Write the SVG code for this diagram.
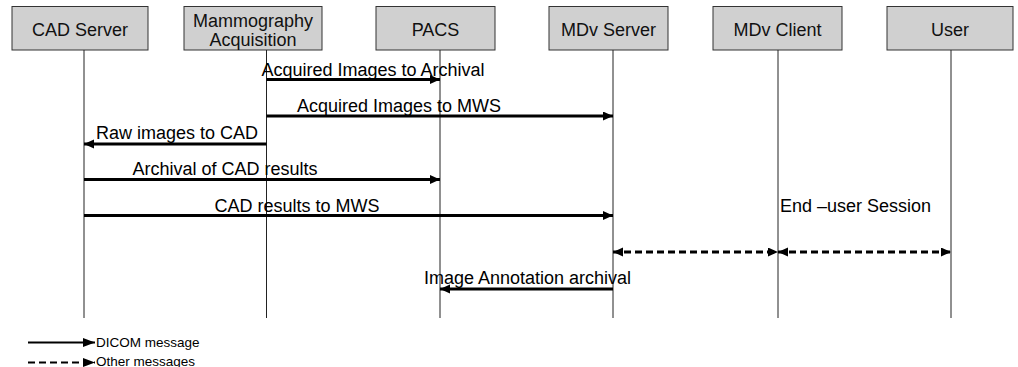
<svg xmlns="http://www.w3.org/2000/svg" width="1018" height="367" viewBox="0 0 1018 367">
  <style>
    .box { fill: #d0d0d0; stroke: #333; stroke-width: 1; }
    .lbl { font-family: "Liberation Sans", Arial, sans-serif; font-size: 18px; fill: #111; text-anchor: middle; }
    .msg { font-family: "Liberation Sans", Arial, sans-serif; font-size: 18px; fill: #000; text-anchor: middle; }
    .life { stroke: #222; stroke-width: 1; fill: none; }
    .dicom { stroke: #000; stroke-width: 3; fill: none; marker-end: url(#head); }
    .other { stroke: #000; stroke-width: 3; fill: none; stroke-dasharray: 7 4; marker-start: url(#head); marker-end: url(#head); }
    .leg { font-family: "Liberation Sans", Arial, sans-serif; font-size: 13.5px; fill: #000; }
  </style>
  <defs>
    <marker id="head" markerUnits="userSpaceOnUse" markerWidth="11" markerHeight="10" refX="10" refY="4.5" orient="auto-start-reverse">
      <path d="M0,0 L10,4.5 L0,9 z" fill="#000"/>
    </marker>
    <marker id="lhead" markerUnits="userSpaceOnUse" markerWidth="13" markerHeight="10" refX="12" refY="4.5" orient="auto">
      <path d="M0,0 L12,4.5 L0,9 z" fill="#000"/>
    </marker>
  </defs>

  <!-- participants -->
  <g id="cad-server">
    <rect class="box" x="12" y="6.5" width="136" height="43.5"/>
    <text class="lbl" x="80" y="36">CAD Server</text>
    <line class="life" x1="84" y1="50" x2="84" y2="318"/>
  </g>
  <g id="mammography-acquisition">
    <rect class="box" x="184" y="6.5" width="138" height="43.5"/>
    <text class="lbl" x="253" y="27">Mammography</text>
    <text class="lbl" x="253" y="46">Acquisition</text>
    <line class="life" x1="266.5" y1="50" x2="266.5" y2="318"/>
  </g>
  <g id="pacs">
    <rect class="box" x="376" y="6.5" width="119" height="43.5"/>
    <text class="lbl" x="435.5" y="36">PACS</text>
    <line class="life" x1="440" y1="50" x2="440" y2="318"/>
  </g>
  <g id="mdv-server">
    <rect class="box" x="549" y="6.5" width="119" height="43.5"/>
    <text class="lbl" x="608.5" y="36">MDv Server</text>
    <line class="life" x1="613" y1="50" x2="613" y2="318"/>
  </g>
  <g id="mdv-client">
    <rect class="box" x="713" y="6.5" width="129" height="43.5"/>
    <text class="lbl" x="777.5" y="36">MDv Client</text>
    <line class="life" x1="778" y1="50" x2="778" y2="318"/>
  </g>
  <g id="user">
    <rect class="box" x="887" y="6.5" width="126" height="43.5"/>
    <text class="lbl" x="950" y="36">User</text>
    <line class="life" x1="951" y1="50" x2="951" y2="318"/>
  </g>

  <!-- messages -->
  <g id="connectors">
    <line class="dicom" x1="266.5" y1="79.5" x2="440" y2="79.5"/>
    <line class="dicom" x1="266.5" y1="116" x2="613" y2="116"/>
    <line class="dicom" x1="266.5" y1="144" x2="84" y2="144"/>
    <line class="dicom" x1="84" y1="179.5" x2="440" y2="179.5"/>
    <line class="dicom" x1="84" y1="215.5" x2="613" y2="215.5"/>
    <line class="other" x1="613" y1="252" x2="778" y2="252"/>
    <line class="other" x1="778" y1="252" x2="951" y2="252"/>
    <line class="dicom" x1="613" y1="289" x2="440" y2="289"/>
  </g>

  <g id="message-labels">
    <text class="msg" x="373" y="76">Acquired Images to Archival</text>
    <text class="msg" x="399" y="112">Acquired Images to MWS</text>
    <text class="msg" x="177" y="139">Raw images to CAD</text>
    <text class="msg" x="225" y="175">Archival of CAD results</text>
    <text class="msg" x="297" y="212">CAD results to MWS</text>
    <text class="msg" x="780" y="212" style="text-anchor:start">End –user Session</text>
    <text class="msg" x="527.5" y="284">Image Annotation archival</text>
  </g>

  <!-- legend -->
  <g id="legend">
    <line x1="28" y1="342.5" x2="95" y2="342.5" stroke="#000" stroke-width="2" marker-end="url(#lhead)"/>
    <text class="leg" x="96" y="347">DICOM message</text>
    <line x1="28" y1="362.5" x2="95" y2="362.5" stroke="#000" stroke-width="2" stroke-dasharray="7 4" marker-end="url(#lhead)"/>
    <text class="leg" x="96" y="366">Other messages</text>
  </g>
</svg>
